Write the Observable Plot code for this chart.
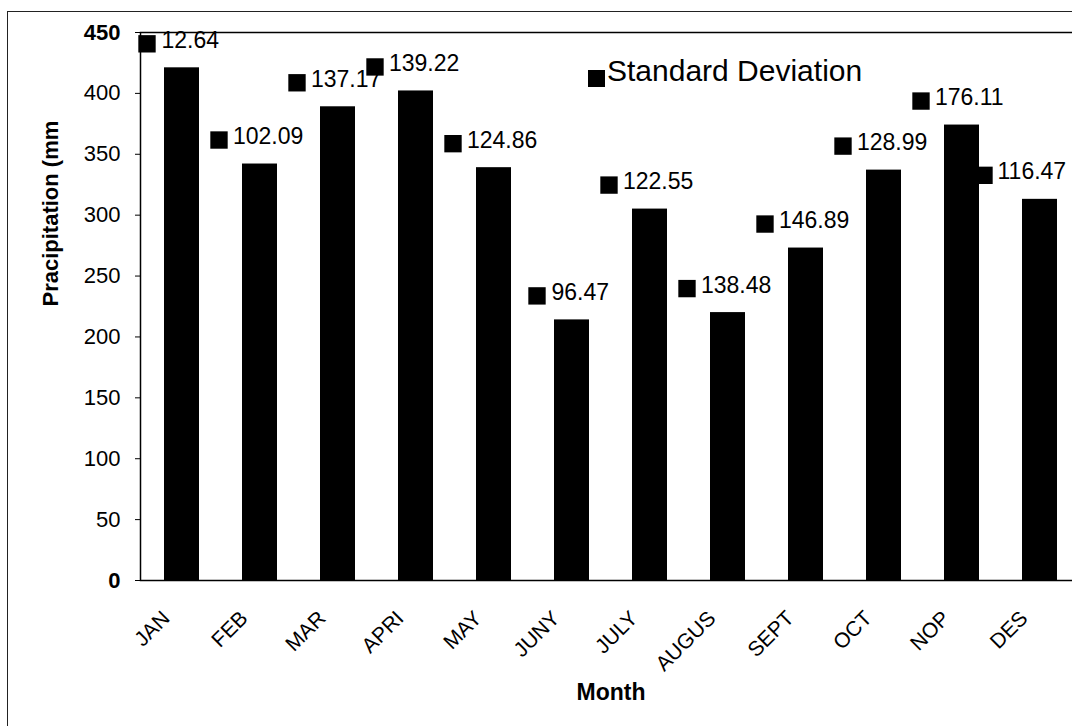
<!DOCTYPE html>
<html>
<head>
<meta charset="utf-8">
<script src="https://cdn.jsdelivr.net/npm/d3@7"></script>
<script src="https://cdn.jsdelivr.net/npm/@observablehq/plot@0.6"></script>
<style>
  html, body { margin: 0; padding: 0; background: #fff; overflow: hidden; }
  #wrap { position: relative; width: 1072px; height: 726px; overflow: hidden; font-family: "Liberation Sans", Arial, sans-serif; }
  #chart { position: absolute; left: 0; top: 0; width: 1081px; }
  #chart svg { max-width: none !important; }
  .edge-top { position: absolute; left: 8px; top: 11px; width: 1064px; height: 0; border-top: 1.5px solid #222; }
  .edge-left { position: absolute; left: 7px; top: 11px; width: 0; height: 715px; border-left: 1.5px solid #222; }
  #legend { position: absolute; left: 588px; top: 56px; font-size: 30px; line-height: 30px; color: #000; white-space: nowrap; }
  #legend .key { position: absolute; left: 0; top: 14px; width: 17px; height: 17px; background: #000; }
  #legend .txt { position: absolute; left: 19px; top: 0; }
</style>
</head>
<body>
<div id="wrap">
  <div id="chart"></div>
  <div class="edge-top"></div>
  <div class="edge-left"></div>
  <div id="legend"><span class="key"></span><span class="txt"></span></div>
</div>
<script>
const months = ["JAN","FEB","MAR","APRI","MAY","JUNY","JULY","AUGUS","SEPT","OCT","NOP","DES"];
const precipitation = [421, 342, 389, 402, 339, 214, 305, 220, 273, 337, 374, 313];
const stdDev = [12.64, 102.09, 137.17, 139.22, 124.86, 96.47, 122.55, 138.48, 146.89, 128.99, 176.11, 116.47];
const yTicks = [0, 50, 100, 150, 200, 250, 300, 350, 400, 450];
const yLabel = "Pracipitation (mm";
const xLabel = "Month";
const legendLabel = "Standard Deviation";

const fmt = d3.format(".2f");
const data = months.map((m, i) => ({month: m, value: precipitation[i], label: fmt(stdDev[i])}));

const labelGroups = [
  {filter: d => d.label.length < 6, mdx: -35, tdx: -20.5},
  {filter: d => d.label.length >= 6 && d.month !== "DES", mdx: -41, tdx: -27},
  {filter: d => d.month === "DES", mdx: -56, tdx: -42.5}
];

const labelMarks = labelGroups.flatMap(g => {
  const sub = data.filter(g.filter);
  return [
    Plot.dot(sub, {x: "month", y: "value", dx: g.mdx, dy: -24, symbol: "square", r: 9.8, fill: "black", stroke: "none"}),
    Plot.text(sub, {x: "month", y: "value", text: "label", dx: g.tdx, dy: -20, textAnchor: "start", lineAnchor: "bottom", fontSize: 23, fill: "black"})
  ];
});

const chart = Plot.plot({
  width: 1081,
  height: 726,
  marginLeft: 140,
  marginRight: 0,
  marginTop: 32,
  marginBottom: 146,
  style: {fontFamily: "'Liberation Sans', Arial, sans-serif", background: "white", color: "black", maxWidth: "none"},
  x: {domain: months, paddingInner: 0.554, paddingOuter: 0.277, axis: null},
  y: {domain: [0, 450], axis: null},
  marks: [
    Plot.barY(data, {x: "month", y: "value", fill: "black"}),
    Plot.frame({stroke: "black", strokeWidth: 1.5}),
    Plot.axisY({ticks: yTicks, tickSize: 5, tickPadding: 15, fontSize: 22, label: null, tickFormat: d => d}),
    ...labelMarks,
    Plot.text(months, {x: d => d, frameAnchor: "bottom", dx: -11, dy: 39, rotate: -45, textAnchor: "end", lineAnchor: "bottom", fontSize: 21, fill: "black"}),
    Plot.text([yLabel], {frameAnchor: "left", dx: -90, rotate: -90, fontSize: 22, fontWeight: "bold", fill: "black"}),
    Plot.text([xLabel], {frameAnchor: "bottom", dy: 119, fontSize: 23, fontWeight: "bold", fill: "black"})
  ]
});
chart.style.maxWidth = "none";
document.getElementById("chart").appendChild(chart);

// emphasise the end tick labels, as in the scan
const tickTexts = chart.querySelectorAll('[aria-label="y-axis tick label"] text');
if (tickTexts.length) {
  tickTexts[0].setAttribute("font-weight", "bold");
  tickTexts[tickTexts.length - 1].setAttribute("font-weight", "bold");
}
document.querySelector("#legend .txt").textContent = legendLabel;
</script>
</body>
</html>
